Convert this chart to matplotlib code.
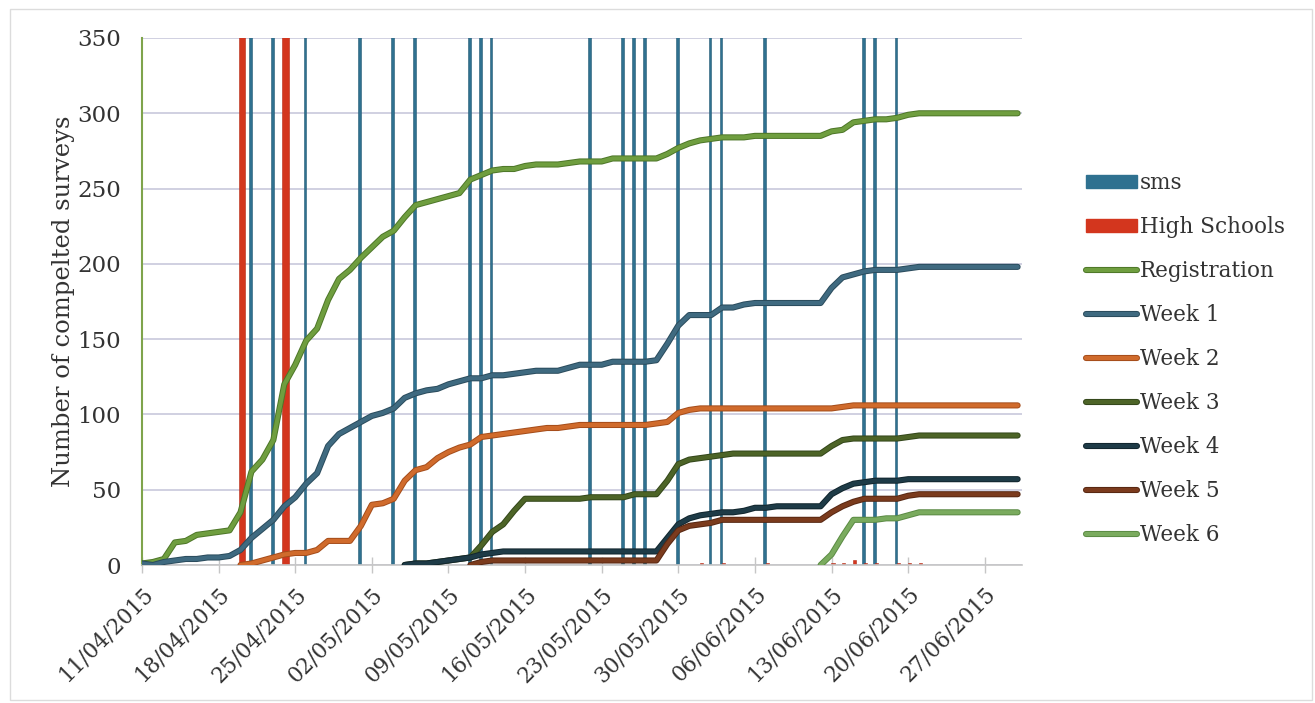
import numpy as np
import pandas as pd
import matplotlib
matplotlib.use("Agg")
import matplotlib.pyplot as plt
import matplotlib.dates as mdates
import matplotlib.patheffects as pe
from matplotlib.lines import Line2D
from matplotlib.patches import Patch, Rectangle

# ---- data -------------------------------------------------------------
start_date = "2015-04-11"
end_date = "2015-06-30"

registration = [1, 2, 4, 15, 16, 20, 21, 22, 23, 35,
                62, 70, 83, 120, 133, 149, 157, 176, 190, 196,
                204, 211, 218, 222, 231, 239, 241, 243, 245, 247,
                256, 259, 262, 263, 263, 265, 266, 266, 266, 267,
                268, 268, 268, 270, 270, 270, 270, 270, 273, 277,
                280, 282, 283, 284, 284, 284, 285, 285, 285, 285,
                285, 285, 285, 288, 289, 294, 295, 296, 296, 297,
                299, 300, 300, 300, 300, 300, 300, 300, 300, 300,
                300]

week1 = [1, 0, 2, 3, 4, 4, 5, 5, 6, 10,
         18, 24, 30, 39, 45, 54, 61, 79, 87, 91,
         95, 99, 101, 104, 111, 114, 116, 117, 120, 122,
         124, 124, 126, 126, 127, 128, 129, 129, 129, 131,
         133, 133, 133, 135, 135, 135, 135, 136, 147, 159,
         166, 166, 166, 171, 171, 173, 174, 174, 174, 174,
         174, 174, 174, 184, 191, 193, 195, 196, 196, 196,
         197, 198, 198, 198, 198, 198, 198, 198, 198, 198,
         198]

week2 = [None] * 9 + [0, 1, 3, 5, 7, 8, 8, 10, 16, 16, 16,
                      26, 40, 41, 44, 56, 63, 65, 71, 75, 78,
                      80, 85, 86, 87, 88, 89, 90, 91, 91, 92,
                      93, 93, 93, 93, 93, 93, 93, 94, 95, 101,
                      103, 104, 104, 104, 104, 104, 104, 104, 104, 104,
                      104, 104, 104, 104, 105, 106, 106, 106, 106, 106,
                      106, 106, 106, 106, 106, 106, 106, 106, 106, 106,
                      106]

week3 = [None] * 24 + [0, 1, 1, 2, 3, 4,
                       5, 13, 22, 27, 36, 44, 44, 44, 44, 44,
                       44, 45, 45, 45, 45, 47, 47, 47, 56, 67,
                       70, 71, 72, 73, 74, 74, 74, 74, 74, 74,
                       74, 74, 74, 79, 83, 84, 84, 84, 84, 84,
                       85, 86, 86, 86, 86, 86, 86, 86, 86, 86,
                       86]

week4 = [None] * 24 + [0, 1, 1, 2, 3, 4,
                       5, 7, 8, 9, 9, 9, 9, 9, 9, 9,
                       9, 9, 9, 9, 9, 9, 9, 9, 18, 27,
                       31, 33, 34, 35, 35, 36, 38, 38, 39, 39,
                       39, 39, 39, 47, 51, 54, 55, 56, 56, 56,
                       57, 57, 57, 57, 57, 57, 57, 57, 57, 57,
                       57]

week5 = [None] * 30 + [0, 2, 3, 3, 3, 3, 3, 3, 3, 3,
                       3, 3, 3, 3, 3, 3, 3, 3, 14, 23,
                       26, 27, 28, 30, 30, 30, 30, 30, 30, 30,
                       30, 30, 30, 35, 39, 42, 44, 44, 44, 44,
                       46, 47, 47, 47, 47, 47, 47, 47, 47, 47,
                       47]

week6 = [None] * 62 + [0, 7, 19, 30, 30, 30, 31, 31,
                       33, 35, 35, 35, 35, 35, 35, 35, 35, 35,
                       35]

sms_dates = ["2015-04-21", "2015-04-23", "2015-04-26", "2015-05-01",
             "2015-05-04", "2015-05-06", "2015-05-11", "2015-05-12",
             "2015-05-13", "2015-05-22", "2015-05-25", "2015-05-26",
             "2015-05-27", "2015-05-30", "2015-06-02", "2015-06-03",
             "2015-06-07", "2015-06-16", "2015-06-17", "2015-06-19"]
sms_values = [400, 400, 400, 400, 400, 400, 400, 400, 400, 400,
              400, 400, 400, 400, 400, 400, 400, 400, 400, 400]

school_dates = ["2015-04-20", "2015-04-24", "2015-06-01", "2015-06-03",
                "2015-06-07", "2015-06-13", "2015-06-14", "2015-06-15",
                "2015-06-16", "2015-06-17", "2015-06-19", "2015-06-20",
                "2015-06-21"]
school_values = [400, 400, 1, 1, 1, 1, 1, 3, 1, 1, 1, 1, 1]

series_names = ["Registration", "Week 1", "Week 2", "Week 3",
                "Week 4", "Week 5", "Week 6"]
tick_dates = ["2015-04-11", "2015-04-18", "2015-04-25", "2015-05-02",
              "2015-05-09", "2015-05-16", "2015-05-23", "2015-05-30",
              "2015-06-06", "2015-06-13", "2015-06-20", "2015-06-27"]

# ---- styling ----------------------------------------------------------
FONT = ["DejaVu Serif"]
TEXT = "#333333"
line_colors = {
    "Registration": ("#6f9e3f", "#4d7628"),
    "Week 1": ("#3f6a80", "#2a4b5c"),
    "Week 2": ("#d06b2c", "#a44c1a"),
    "Week 3": ("#4d6427", "#33461a"),
    "Week 4": ("#1e3b47", "#11252d"),
    "Week 5": ("#7b3b1d", "#572712"),
    "Week 6": ("#7aab5e", "#5a8a43"),
}
SMS_COLOR = "#2f7190"
SCHOOL_COLOR = "#d3361e"

plt.rcParams["font.family"] = FONT

days = mdates.date2num(pd.date_range(start_date, end_date))
sms_x = mdates.date2num(pd.to_datetime(sms_dates))
school_x = mdates.date2num(pd.to_datetime(school_dates))
ymax = 350

fig = plt.figure(figsize=(13.15, 7.03), dpi=100)
fig.patch.set_facecolor("white")
ax = fig.add_axes([142 / 1315, 1 - 565 / 703, (1022 - 142) / 1315, (565 - 38) / 703])

# gridlines
ax.set_axisbelow(True)
ax.yaxis.grid(True, color="#c8c8dc", linewidth=1.2)

# event bars (clipped by the value axis)
ax.bar(sms_x - 0.1, sms_values, width=0.24, color=SMS_COLOR,
       edgecolor="#245a73", linewidth=0.4, zorder=2)
school_w = [0.6 if v > ymax else 0.3 for v in school_values]
ax.bar(school_x + 0.12, school_values, width=school_w, color=SCHOOL_COLOR,
       edgecolor="#b52a15", linewidth=0.4, zorder=2)

# cumulative survey lines
series = [registration, week1, week2, week3, week4, week5, week6]
for name, vals in zip(series_names, series):
    y = np.array([np.nan if v is None else v for v in vals], dtype=float)
    face, edge = line_colors[name]
    ax.plot(days, y, color=face, linewidth=3.0, solid_capstyle="round",
            solid_joinstyle="round", zorder=3,
            path_effects=[pe.Stroke(linewidth=4.4, foreground=edge,
                                    capstyle="round", joinstyle="round"),
                          pe.Normal()])

# axes
ax.set_xlim(days[0], days[-1] + 0.4)
ax.set_ylim(0, ymax)
ax.set_yticks(np.arange(0, ymax + 1, 50))
ticks = mdates.date2num(pd.to_datetime(tick_dates))
ax.set_xticks(ticks)
ax.set_xticklabels([pd.Timestamp(t).strftime("%d/%m/%Y") for t in tick_dates])
for lab in ax.get_xticklabels():
    lab.set_rotation(45)
    lab.set_ha("right")
    lab.set_rotation_mode("anchor")
ax.tick_params(axis="x", direction="inout", length=12, width=1,
               color="#c6c6c6", pad=7, labelsize=15.5, labelcolor=TEXT)
ax.tick_params(axis="y", length=0, pad=15, labelsize=16.5, labelcolor=TEXT)

for side in ("top", "right"):
    ax.spines[side].set_visible(False)
ax.spines["bottom"].set_color("#c6c6c6")
ax.spines["bottom"].set_linewidth(1.2)
ax.spines["left"].set_color("#7fa44c")
ax.spines["left"].set_linewidth(1.5)

ax.set_ylabel("Number of compelted surveys", fontsize=17.5, color=TEXT,
              labelpad=2)

# legend
handles = [Patch(facecolor=SMS_COLOR, edgecolor=SMS_COLOR, label="sms"),
           Patch(facecolor=SCHOOL_COLOR, edgecolor=SCHOOL_COLOR, label="High Schools")]
for name in series_names:
    face, edge = line_colors[name]
    handles.append(Line2D([0], [0], color=face, linewidth=3.0,
                          solid_capstyle="round",
                          path_effects=[pe.Stroke(linewidth=4.4, foreground=edge),
                                        pe.Normal()],
                          label=name))
leg = fig.legend(handles=handles, loc="center left",
                 bbox_to_anchor=(1077 / 1315, 1 - 359 / 703),
                 frameon=False, fontsize=15.5, handlelength=2.4,
                 handleheight=0.55, handletextpad=0.12, labelspacing=1.02,
                 borderaxespad=0)
for t in leg.get_texts():
    t.set_color(TEXT)

# chart border
fig.patches.append(Rectangle((10 / 1315, 3 / 703), 1302 / 1315, 691 / 703,
                             transform=fig.transFigure, fill=False,
                             edgecolor="#dcdcdc", linewidth=1.0))

fig.savefig("out.png", dpi=100, facecolor="white")
